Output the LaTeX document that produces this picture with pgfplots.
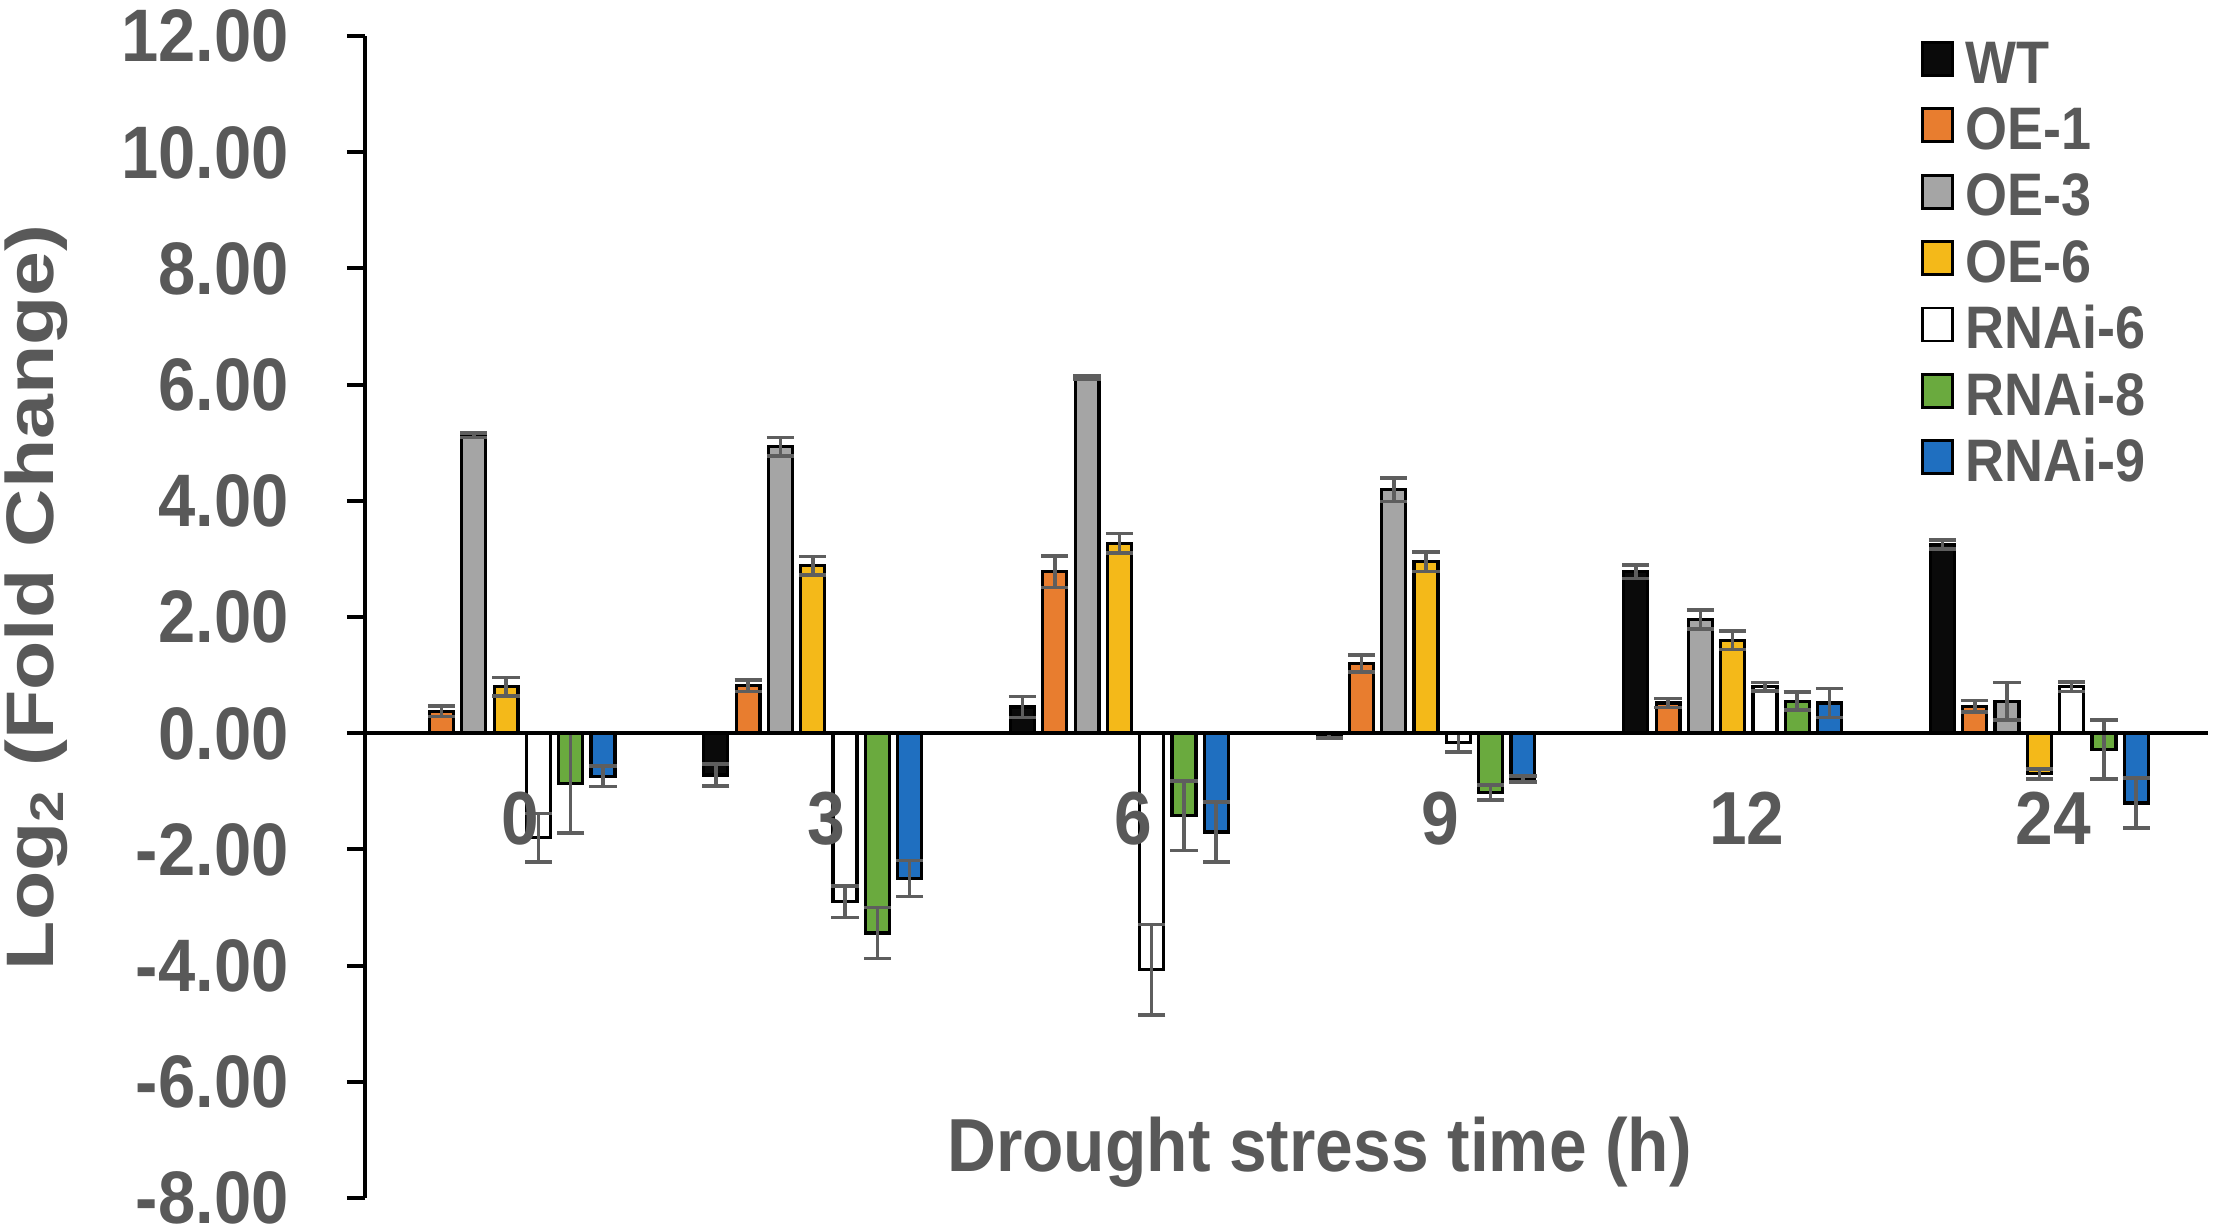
\documentclass[border=0pt]{standalone}
\usepackage{fontspec}
\setmainfont{Liberation Sans}[FakeStretch=0.9]
\newfontfamily\ylabfont{Liberation Sans}[FakeStretch=1.2]
\usepackage{pgfplots}
\pgfplotsset{compat=1.18}
\definecolor{txt}{HTML}{595959}
\definecolor{errc}{HTML}{5E5E5E}
\definecolor{cWT}{HTML}{0A0A0A}
\definecolor{cOEa}{HTML}{E87D2F}
\definecolor{cOEb}{HTML}{A5A5A5}
\definecolor{cOEc}{HTML}{F4B919}
\definecolor{cRa}{HTML}{FFFFFF}
\definecolor{cRb}{HTML}{6AAA3E}
\definecolor{cRc}{HTML}{1F6FC0}
\pgfplotsset{
  sqlegend/.style={legend image code/.code={\draw[##1,draw=black,line width=0.7pt] (0pt,-0.8pt) rectangle (7.5pt,7.45pt);}},
}
\begin{document}
\begin{tikzpicture}
\useasboundingbox (0,0) rectangle (554.25pt,-307.5pt);
\begin{axis}[
  at={(91.25pt,-299.5pt)}, anchor=south west,
  scale only axis, width=460.75pt, height=290.5pt,
  xmin=-0.46, xmax=5.55, ymin=-8, ymax=12,
  axis y line=left, axis x line=middle, axis on top,
  axis line style={-, black},
  y axis line style={line width=1.1pt},
  x axis line style={line width=0.9pt},
  ybar, bar width=0.078,
  xtick={0,1,2,3,4,5}, xticklabels={0,3,6,9,12,24},
  x tick style={draw=none},
  xticklabel style={anchor=center, yshift=-16.75pt, xshift=3.5pt, text depth=0pt,
    font=\fontsize{18.8}{18.8}\selectfont\bfseries, text=txt},
  ytick={-8,-6,...,12},
  yticklabels={-8.00,-6.00,-4.00,-2.00,0.00,2.00,4.00,6.00,8.00,10.00,12.00},
  tick align=outside, major tick length=4.5pt,
  y tick style={black, line width=1pt},
  yticklabel style={anchor=east, inner sep=0pt, text depth=0pt, xshift=-14.4pt,
    font=\fontsize{18.6}{18.6}\selectfont\bfseries, text=txt},
  xlabel={Drought stress time (h)},
  xlabel style={at={(axis description cs:0.518,0.039)}, anchor=center,
    font=\fontsize{18.8}{18.8}\selectfont\bfseries, text=txt},
  ylabel={Log\textsubscript{2} (Fold Change)},
  ylabel style={at={(axis description cs:-0.1785,0.517)}, anchor=center, rotate=0,
    font=\ylabfont\fontsize{16.8}{16.8}\selectfont\bfseries, text=txt},
  error bars/y dir=both, error bars/y explicit,
  error bars/error bar style={color=errc, line width=0.9pt},
  error bars/error mark options={color=errc, line width=0.9pt, mark size=3.4pt, rotate=90},
  legend cell align=left,
  legend style={at={(0.8443,0.9974)}, anchor=north west, draw=none, fill=none,
    inner sep=0pt, outer sep=0pt, row sep=0pt, column sep=3pt,
    nodes={inner sep=0pt, text height=11pt, text depth=5.6pt},
    font=\fontsize{15}{15}\selectfont\bfseries, text=txt},
]
\addplot[fill=cWT, draw=black, line width=0.8pt, bar shift=-0.316, sqlegend] coordinates {
 (1,-0.72) +- (0,0.19) (2,0.45) +- (0,0.18) (3,-0.04) +- (0,0.04) (4,2.78) +- (0,0.12) (5,3.25) +- (0,0.08)};
\addlegendentry{WT}
\addplot[fill=cOEa, draw=black, line width=0.8pt, bar shift=-0.2107, sqlegend] coordinates {
 (0,0.38) +- (0,0.09) (1,0.82) +- (0,0.1) (2,2.78) +- (0,0.27) (3,1.2) +- (0,0.15) (4,0.52) +- (0,0.075) (5,0.46) +- (0,0.1)};
\addlegendentry{OE-1}
\addplot[fill=cOEb, draw=black, line width=0.8pt, bar shift=-0.1053, sqlegend] coordinates {
 (0,5.13) +- (0,0.04) (1,4.93) +- (0,0.16) (2,6.12) +- (0,0.03) (3,4.19) +- (0,0.2) (4,1.96) +- (0,0.165) (5,0.55) +- (0,0.32)};
\addlegendentry{OE-3}
\addplot[fill=cOEc, draw=black, line width=0.8pt, bar shift=0, sqlegend] coordinates {
 (0,0.8) +- (0,0.16) (1,2.88) +- (0,0.16) (2,3.27) +- (0,0.17) (3,2.95) +- (0,0.17) (4,1.6) +- (0,0.16) (5,-0.7) +- (0,0.085)};
\addlegendentry{OE-6}
\addplot[fill=cRa, draw=black, line width=0.8pt, bar shift=0.1053, sqlegend] coordinates {
 (0,-1.8) +- (0,0.42) (1,-2.9) +- (0,0.27) (2,-4.07) +- (0,0.78) (3,-0.16) +- (0,0.16) (4,0.8) +- (0,0.07) (5,0.8) +- (0,0.085)};
\addlegendentry{RNAi-6}
\addplot[fill=cRb, draw=black, line width=0.8pt, bar shift=0.2107, sqlegend] coordinates {
 (0,-0.86) +- (0,0.86) (1,-3.44) +- (0,0.44) (2,-1.42) +- (0,0.6) (3,-1.02) +- (0,0.13) (4,0.55) +- (0,0.155) (5,-0.28) +- (0,0.51)};
\addlegendentry{RNAi-8}
\addplot[fill=cRc, draw=black, line width=0.8pt, bar shift=0.316, sqlegend] coordinates {
 (0,-0.74) +- (0,0.18) (1,-2.5) +- (0,0.31) (2,-1.7) +- (0,0.52) (3,-0.79) +- (0,0.05) (4,0.52) +- (0,0.25) (5,-1.2) +- (0,0.43)};
\addlegendentry{RNAi-9}
\end{axis}
\end{tikzpicture}
\end{document}
